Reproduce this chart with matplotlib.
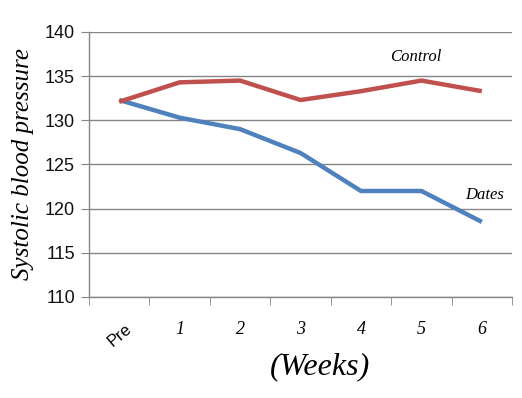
import numpy as np
import matplotlib
matplotlib.use("Agg")
import matplotlib.pyplot as plt

# data
weeks = ["Pre", "1", "2", "3", "4", "5", "6"]
control = [132.1, 134.3, 134.5, 132.3, 133.3, 134.5, 133.3]
dates = [132.3, 130.3, 129.0, 126.3, 122.0, 122.0, 118.5]

hand = "Liberation Serif"
grey = "#868686"

fig = plt.figure(figsize=(5.22, 3.98), dpi=100)
ax = fig.add_axes([0.1705, 0.2538, 0.8105, 0.6658])

x = np.arange(len(weeks))
ax.plot(x, dates, color="#4F81BD", lw=3.2, solid_capstyle="butt", zorder=3)
ax.plot(x, control, color="#C0504D", lw=3.2, solid_capstyle="butt", zorder=3)

ax.set_ylim(110, 140)
ax.set_yticks(np.arange(110, 141, 5))
ax.set_xlim(-0.5, len(weeks) - 0.5)
ax.yaxis.grid(True, color=grey, lw=1)
ax.set_axisbelow(True)

for s in ["top", "right"]:
    ax.spines[s].set_visible(False)
for s in ["left", "bottom"]:
    ax.spines[s].set_color(grey)
    ax.spines[s].set_linewidth(1)

ax.tick_params(axis="y", length=6, color=grey, labelsize=13, pad=4,
               labelcolor="#111111")
for lab in ax.get_yticklabels():
    lab.set_family("Liberation Sans")

# tick marks between categories, labels on categories
ax.set_xticks(np.arange(-0.5, len(weeks), 1), minor=True)
ax.set_xticks(x)
ax.set_xticklabels(weeks, family=hand, style="italic", fontsize=13)
ax.tick_params(axis="x", which="major", length=0, pad=17)
ax.tick_params(axis="x", which="minor", length=6, color=grey)
pre = ax.get_xticklabels()[0]
pre.set_rotation(40)
pre.set_family("Liberation Sans")
pre.set_style("normal")
pre.set_fontsize(12)

ax.set_ylabel("Systolic blood pressure", family=hand, style="italic",
              fontsize=18, labelpad=8)
ax.set_xlabel("(Weeks)", family=hand, style="italic", fontsize=23)
ax.xaxis.set_label_coords(0.545, -0.21)

ax.text(4.9, 137.2, "Control", family=hand, style="italic", fontsize=12,
        ha="center", va="center")
ax.text(6.05, 121.5, "Dates", family=hand, style="italic", fontsize=12,
        ha="center", va="center")

fig.savefig("out.png", dpi=100)
